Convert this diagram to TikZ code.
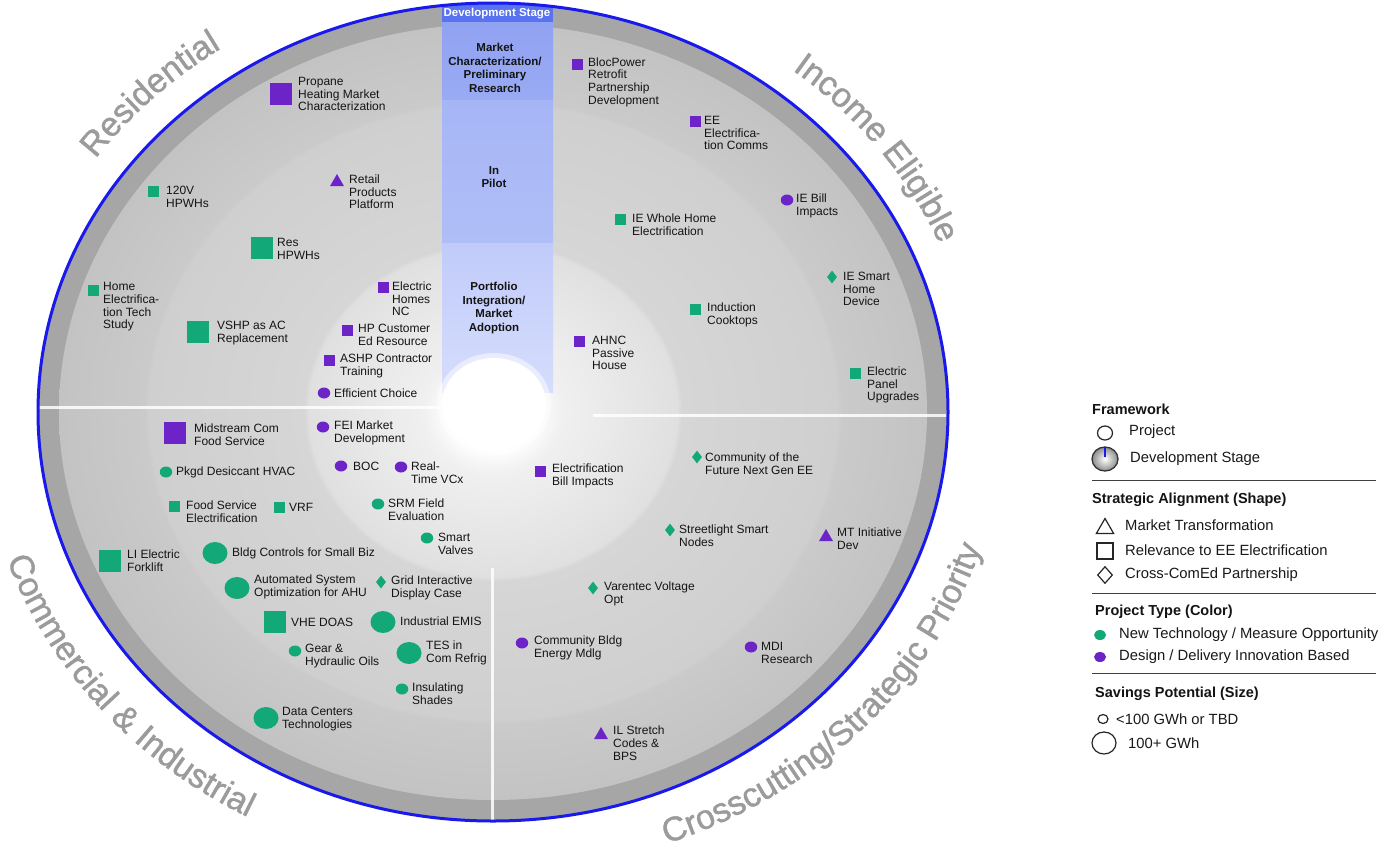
\documentclass[tikz,border=0pt]{standalone}
\usepackage{fontspec}
\setmainfont{Liberation Sans}
\newfontfamily\ringfamily[FakeBold=1.2]{Liberation Sans}
\usetikzlibrary{shapes.geometric,decorations.text,calc}

% palette
\definecolor{pur}{RGB}{108,36,200}
\definecolor{grn}{RGB}{18,168,120}
\definecolor{edgeblue}{RGB}{25,25,235}
\definecolor{bandgray}{RGB}{166,166,166}
\definecolor{ringtxt}{RGB}{155,155,155}
\definecolor{hdrblue}{RGB}{88,114,240}
\definecolor{mkA}{RGB}{144,162,242}
\definecolor{mkB}{RGB}{154,171,244}
\definecolor{plA}{RGB}{166,181,246}
\definecolor{plB}{RGB}{176,190,247}
\definecolor{pfA}{RGB}{192,203,250}
\definecolor{pfB}{RGB}{214,221,252}
\definecolor{rgA}{RGB}{240,240,240}
\definecolor{rgB}{RGB}{224,224,224}
\definecolor{rgC}{RGB}{214,214,214}
\definecolor{rgD}{RGB}{207,207,207}
\definecolor{rgE}{RGB}{202,202,202}
\definecolor{rgF}{RGB}{195,195,195}

% concentric stage bands of the inner disk (25bp = rim of the disk)
\pgfdeclareradialshading{diskshade}{\pgfpoint{0bp}{0bp}}{color(0bp)=(white); color(2.4bp)=(white); color(4bp)=(rgA); color(10.6bp)=(rgB); color(10.9bp)=(rgC); color(19.8bp)=(rgD); color(20.1bp)=(rgE); color(25bp)=(rgF); color(50bp)=(rgF)}

\newcommand\lblfont{\fontsize{12}{12.7}\selectfont}
\newcommand\stagefont{\fontsize{11.5}{13.7}\selectfont\bfseries}
\newcommand\legfont{\fontsize{14.8}{17}\selectfont}
\newcommand\leghdfont{\fontsize{14.5}{17}\selectfont\bfseries}
\newcommand\ringfont{\ringfamily\fontsize{34}{40}\selectfont}

\tikzset{
  lbl/.style={anchor=west, align=left, inner sep=0pt, font=\lblfont, text=black!92},
  stagelbl/.style={align=center, inner sep=0pt, font=\stagefont, text=black!92},
  sqS/.style={rectangle, minimum size=11pt, inner sep=0pt},
  sqL/.style={rectangle, minimum size=22pt, inner sep=0pt},
  dotS/.style={ellipse, minimum width=12.5pt, minimum height=11pt, inner sep=0pt},
  dotL/.style={ellipse, minimum width=25pt, minimum height=22pt, inner sep=0pt},
  tri/.style={regular polygon, regular polygon sides=3, minimum size=16pt, inner sep=0pt, yshift=-2pt},
  dia/.style={diamond, minimum width=10pt, minimum height=13pt, inner sep=0pt},
  legtxt/.style={anchor=west, inner sep=0pt, font=\legfont, text=black!90},
  leghd/.style={anchor=west, inner sep=0pt, font=\leghdfont, text=black!92},
  legsep/.style={black!75, line width=0.9pt},
  legline/.style={draw=black!85, line width=1.2pt, inner sep=0pt},
  ringlabel/.style={decorate, decoration={text along path, text align=center, text color=ringtxt, text={|\ringfont|#1}}}
}

% one project: marker node and its label
\newcommand\proj[6]{%
  \node[#2, fill=#3] (m#1) at (#4) {};
  \node[lbl] (t#1) at (#5) {#6};}

\begin{document}
\begin{tikzpicture}[x=1pt, y=1pt]
\useasboundingbox (0,0) rectangle (1386,-855);
\fill[white] (0,0) rectangle (1386,-855);

\coordinate (c) at (493,-412);

% rim band and inner disk
\fill[bandgray] (c) ellipse [x radius=455, y radius=409];
\shade[shading=diskshade] (c) ellipse [x radius=434, y radius=388];

% development stage column
\begin{scope}
  \clip (c) ellipse [x radius=455, y radius=409];
  \fill[hdrblue] (442,0) rectangle (553,-22);
  \shade[top color=mkA, bottom color=mkB] (442,-22) rectangle (553,-100);
  \shade[top color=plA, bottom color=plB] (442,-100) rectangle (553,-243);
  \shade[top color=pfA, bottom color=pfB] (442,-243) rectangle (553,-392);
\end{scope}

% centre hole
\fill[white, opacity=0.5] (494,-404) ellipse [x radius=57, y radius=51];
\fill[white] (494,-404) ellipse [x radius=52, y radius=46];

% quadrant dividers
\draw[white, line width=3pt, opacity=0.85] (38,-407) -- (443,-407);
\draw[white, line width=3pt, opacity=0.85] (593,-415) -- (947,-415);
\draw[white, line width=3pt, opacity=0.85] (492,-568) -- (492,-821);

% outer edge
\draw[edgeblue, line width=3pt] (c) ellipse [x radius=455, y radius=409];

% stage captions
\node[font=\stagefont, text=white, inner sep=0pt] (hdr) at (497,-14) {Development Stage};
\node[stagelbl] (stA) at (495,-68) {Market\\Characterization/\\Preliminary\\Research};
\node[stagelbl] (stB) at (494,-177) {In\\Pilot};
\node[stagelbl] (stC) at (494,-308) {Portfolio\\Integration/\\Market\\Adoption};

% Residential
\proj{1}{sqL}{pur}{281,-94}{298,-94}{Propane\\Heating Market\\Characterization}
\proj{2}{tri}{pur}{337,-180}{349,-192}{Retail\\Products\\Platform}
\proj{3}{sqS}{grn}{153,-191}{166,-197}{120V\\HPWHs}
\proj{4}{sqL}{grn}{262,-248}{277,-249}{Res\\HPWHs}
\proj{5}{sqS}{grn}{93,-290}{103,-307}{Home\\Electrifica-\\tion Tech\\Study}
\proj{6}{sqL}{grn}{198,-332}{217,-333}{VSHP as AC\\Replacement}
\proj{7}{sqS}{pur}{383,-287}{392,-299}{Electric\\Homes\\NC}
\proj{8}{sqS}{pur}{347,-330}{358,-335}{HP Customer\\Ed Resource}
\proj{9}{sqS}{pur}{329,-360}{340,-366}{ASHP Contractor\\Training}
\proj{10}{dotS}{pur}{324,-393}{334,-393}{Efficient Choice}

% Income Eligible
\proj{11}{sqS}{pur}{577,-64}{588,-82}{BlocPower\\Retrofit\\Partnership\\Development}
\proj{12}{sqS}{pur}{695,-121}{704,-133}{EE\\Electrifica-\\tion Comms}
\proj{13}{dotS}{pur}{787,-200}{796,-206}{IE Bill\\Impacts}
\proj{14}{sqS}{grn}{620,-219}{632,-225}{IE Whole Home\\Electrification}
\proj{15}{dia}{grn}{832,-277}{843,-289}{IE Smart\\Home\\Device}
\proj{16}{sqS}{grn}{695,-309}{707,-315}{Induction\\Cooktops}
\proj{17}{sqS}{pur}{579,-341}{592,-353}{AHNC\\Passive\\House}
\proj{18}{sqS}{grn}{855,-373}{867,-385}{Electric\\Panel\\Upgrades}

% Commercial & Industrial
\proj{19}{sqL}{pur}{175,-433}{194,-435}{Midstream Com\\Food Service}
\proj{20}{dotS}{pur}{323,-427}{334,-433}{FEI Market\\Development}
\proj{21}{dotS}{pur}{341,-466}{353,-466}{BOC}
\proj{22}{dotS}{pur}{401,-467}{411,-473}{Real-\\Time VCx}
\proj{23}{dotS}{grn}{166,-472}{176,-472}{Pkgd Desiccant HVAC}
\proj{24}{sqS}{grn}{174,-506}{186,-512}{Food Service\\Electrification}
\proj{25}{sqS}{grn}{279,-507}{289,-507}{VRF}
\proj{26}{dotS}{grn}{378,-504}{388,-510}{SRM Field\\Evaluation}
\proj{27}{dotS}{grn}{427,-538}{438,-544}{Smart\\Valves}
\proj{28}{sqL}{grn}{110,-561}{127,-561}{LI Electric\\Forklift}
\proj{29}{dotL}{grn}{215,-553}{232,-553}{Bldg Controls for Small Biz}
\proj{30}{dotL}{grn}{237,-588}{254,-587}{Automated System\\Optimization for AHU}
\proj{31}{dia}{grn}{381,-582}{391,-588}{Grid Interactive\\Display Case}
\proj{32}{sqL}{grn}{275,-622}{291,-622}{VHE DOAS}
\proj{33}{dotL}{grn}{383,-622}{400,-621}{Industrial EMIS}
\proj{34}{dotS}{grn}{295,-651}{305,-656}{Gear \&\\Hydraulic Oils}
\proj{35}{dotL}{grn}{409,-653}{426,-653}{TES in\\Com Refrig}
\proj{36}{dotS}{grn}{402,-689}{412,-694}{Insulating\\Shades}
\proj{37}{dotL}{grn}{266,-718}{282,-719}{Data Centers\\Technologies}

% Crosscutting / Strategic Priority
\proj{38}{sqS}{pur}{540,-471}{552,-476}{Electrification\\Bill Impacts}
\proj{39}{dia}{grn}{697,-457}{705,-464}{Community of the\\Future Next Gen EE}
\proj{40}{dia}{grn}{670,-530}{679,-536}{Streetlight Smart\\Nodes}
\proj{41}{tri}{pur}{826,-535}{837,-539}{MT Initiative\\Dev}
\proj{42}{dia}{grn}{593,-588}{604,-594}{Varentec Voltage\\Opt}
\proj{43}{dotS}{pur}{522,-643}{534,-648}{Community Bldg\\Energy Mdlg}
\proj{44}{dotS}{pur}{751,-647}{761,-653}{MDI\\Research}
\proj{45}{tri}{pur}{601,-733}{613,-743}{IL Stretch\\Codes \&\\BPS}

% sector titles around the rim
\path[ringlabel={Residential}] ($(c)+(166:487 and 438)$) arc [start angle=166, end angle=104, x radius=487, y radius=438];
\path[ringlabel={Income Eligible}] ($(c)+(80:484 and 435)$) arc [start angle=80, end angle=-8, x radius=484, y radius=435];
\path[ringlabel={Commercial {\&} Industrial}] ($(c)+(175:513 and 461)$) arc [start angle=175, end angle=263, x radius=513, y radius=461];
\path[ringlabel={Crosscutting/Strategic Priority}] ($(c)+(268:511 and 459)$) arc [start angle=268, end angle=367, x radius=511, y radius=459];

% legend
\node[leghd] (lgH1) at (1092,-409) {Framework};
\node[legline, ellipse, minimum width=15pt, minimum height=14pt] (lgProj) at (1105,-433) {};
\node[legtxt] (lgProjT) at (1129,-432) {Project};
\node[ellipse, draw=black!80, line width=1.3pt, inner color=white, outer color=black!45, minimum width=26pt, minimum height=24pt, inner sep=0pt] (lgDev) at (1105,-459) {};
\draw[edgeblue, line width=2.5pt] ([yshift=-1pt]lgDev.north) -- ([yshift=2pt]lgDev.center);
\node[legtxt] (lgDevT) at (1130,-459) {Development Stage};
\draw[legsep] (1092,-480) -- (1376,-480);

\node[leghd] (lgH2) at (1092,-500) {Strategic Alignment (Shape)};
\node[legline, regular polygon, regular polygon sides=3, minimum size=20pt, yshift=-2.5pt] (lgTri) at (1105,-526) {};
\node[legtxt] (lgTriT) at (1125,-525) {Market Transformation};
\node[legline, rectangle, minimum size=16pt] (lgSq) at (1105,-551) {};
\node[legtxt] (lgSqT) at (1125,-550) {Relevance to EE Electrification};
\node[legline, diamond, minimum width=15pt, minimum height=17pt] (lgDia) at (1105,-575) {};
\node[legtxt] (lgDiaT) at (1125,-575) {Cross-ComEd Partnership};
\draw[legsep] (1092,-593) -- (1376,-593);

\node[leghd] (lgH3) at (1095,-612) {Project Type (Color)};
\node[ellipse, fill=grn, minimum width=12pt, minimum height=10pt, inner sep=0pt] (lgGrn) at (1100,-635) {};
\node[legtxt] (lgGrnT) at (1119,-635) {New Technology / Measure Opportunity};
\node[ellipse, fill=pur, minimum width=12pt, minimum height=10pt, inner sep=0pt] (lgPur) at (1100,-657) {};
\node[legtxt] (lgPurT) at (1119,-657) {Design / Delivery Innovation Based};
\draw[legsep] (1092,-673) -- (1376,-673);

\node[leghd] (lgH4) at (1095,-694) {Savings Potential (Size)};
\node[legline, ellipse, minimum width=10pt, minimum height=9pt] (lgSm) at (1103,-719) {};
\node[legtxt] (lgSmT) at (1116,-719) {<100 GWh or TBD};
\node[legline, ellipse, minimum width=24pt, minimum height=22pt] (lgLg) at (1104,-743) {};
\node[legtxt] (lgLgT) at (1128,-743) {100+ GWh};
\end{tikzpicture}
\end{document}
